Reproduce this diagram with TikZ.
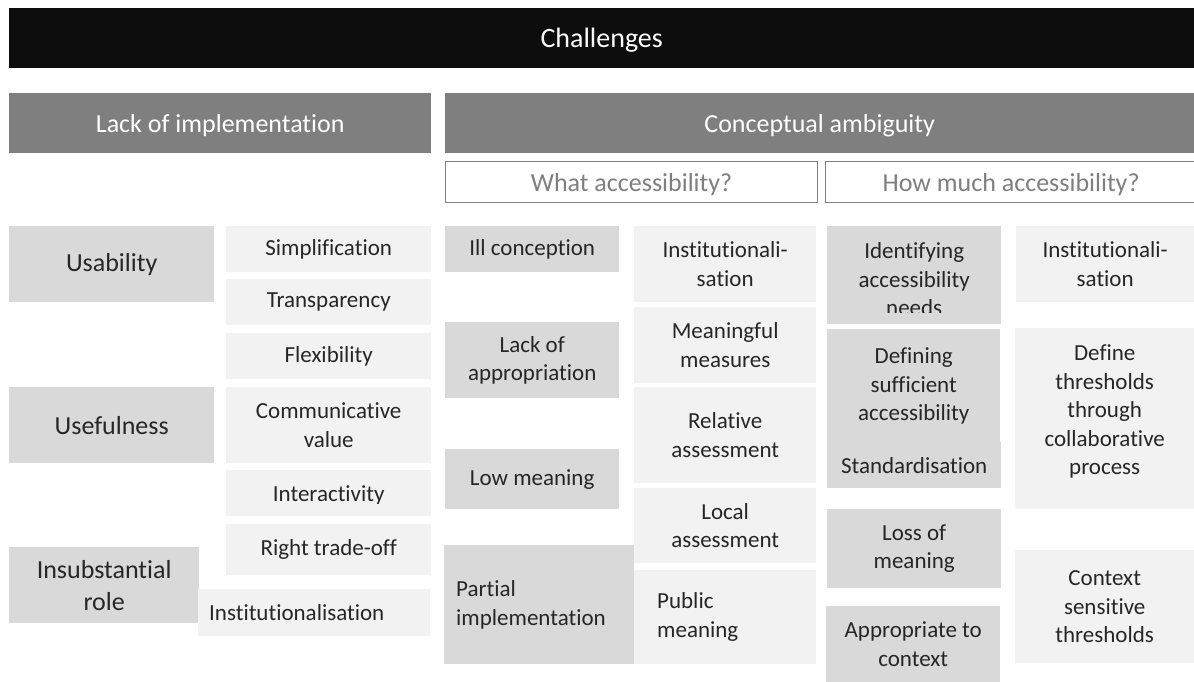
\documentclass[tikz,border=0pt]{standalone}
\usepackage{fontspec}
\setmainfont[RawFeature={-liga;-clig;-calt;-dlig;-ccmp}]{Carlito}
\usepackage{xcolor}
\usepackage{tikz}
\usetikzlibrary{positioning}
\definecolor{cblack}{HTML}{0D0D0D}
\definecolor{cheader}{HTML}{7F7F7F}
\definecolor{cdark}{HTML}{D9D9D9}
\definecolor{clight}{HTML}{F2F2F2}
\definecolor{cline}{HTML}{7F7F7F}
\definecolor{ctext}{HTML}{262626}

\begin{document}
\begin{tikzpicture}[x=1pt, y=-1pt,
  cell/.style={rectangle, anchor=north west, inner sep=0pt, align=center, text=ctext, font=\fontsize{23}{28.5}\selectfont},
  dark/.style={cell, fill=cdark},
  light/.style={cell, fill=clight},
  head/.style={cell, fill=cheader, text=white, text depth=0pt, font=\fontsize{26}{31}\selectfont},
  sub/.style={cell, fill=white, draw=cline, line width=1.2pt, text=cline, text depth=0pt, font=\fontsize{26}{31}\selectfont},
  big/.style={font=\fontsize{26}{32}\selectfont}]
  \useasboundingbox (0,0) rectangle (1194,682);
  \clip (0,0) rectangle (1194,682);
  % title and branches
  \node[head, fill=cblack, font=\fontsize{28}{34}\selectfont, minimum width=1185, minimum height=60] (chall) at (9,8) {Challenges};
  \node[head, minimum width=422, minimum height=60] (lack) at (9,93) {Lack of implementation};
  \node[head, minimum width=749, minimum height=60] (concept) at (445,93) {Conceptual ambiguity};
  \node[sub, minimum width=372, minimum height=41] (what) at (445,161) {What accessibility?};
  \node[sub, minimum width=371, minimum height=41] (howmuch) at (825,161) {How much accessibility?};

  % lack of implementation
  \node[dark, big, minimum width=205, minimum height=76] (usab) at (9,226) {Usability};
  \node[light, minimum width=205, minimum height=46] (simpl) at (226,226) {Simplification};
  \node[light, minimum width=205, minimum height=46] (transp) at (226,279) {Transparency};
  \node[light, minimum width=205, minimum height=46] (flex) at (226,333) {Flexibility};
  \node[dark, big, minimum width=205, minimum height=76] (usef) at (9,387) {Usefulness};
  \node[light, minimum width=205, minimum height=76] (commun) at (226,387) {Communicative\\value};
  \node[light, minimum width=205, minimum height=46] (interact) at (226,470) {};
  \begin{scope}
    \clip (226,470) rectangle (431,503);
    \node[cell, anchor=center, yshift=-2pt] (interact-t) at (interact.center) {Interactivity};
  \end{scope}
  \node[light, minimum width=205, minimum height=51] (tradeoff) at (226,524) {Right trade-off};
  \node[dark, minimum width=190, minimum height=76] (insub) at (9,547) {};
  \begin{scope}
    \clip (9,547) rectangle (199,610);
    \node[cell, big, anchor=center] (insub-t) at (insub.center) {Insubstantial\\role};
  \end{scope}
  \node[light, align=left, text width=210, inner xsep=11, minimum width=232, minimum height=47] (instl) at (198,589) {Institutionalisation};

  % what accessibility
  \node[dark, minimum width=174, minimum height=46] (illc) at (445,226) {Ill conception};
  \node[light, minimum width=182, minimum height=76] (instm) at (634,226) {Institutionali-\\sation};
  \node[light, minimum width=182, minimum height=76] (meanm) at (634,307) {Meaningful\\measures};
  \node[dark, minimum width=174, minimum height=76] (approp) at (445,322) {Lack of\\appropriation};
  \node[light, minimum width=182, minimum height=96] (relat) at (634,387) {Relative\\assessment};
  \node[dark, minimum width=174, minimum height=60] (lowm) at (445,449) {Low meaning};
  \node[light, minimum width=182, minimum height=75] (local) at (634,488) {Local\\assessment};
  \node[dark, align=left, text width=166, inner xsep=12, minimum width=190, minimum height=119] (partial) at (444,545) {Partial\\implementation};
  \node[light, align=left, text width=136, inner xsep=23, minimum width=182, minimum height=94] (public) at (634,570) {Public\\meaning};

  % how much accessibility
  \node[dark, minimum width=174, minimum height=98] (ident) at (827,226) {};
  \begin{scope}
    \clip (827,226) rectangle (1001,312);
    \node[cell, anchor=center, yshift=-4pt] (ident-t) at (ident.center) {Identifying\\accessibility\\needs};
  \end{scope}
  \node[light, minimum width=178, minimum height=76] (instr) at (1016,226) {Institutionali-\\sation};
  \node[dark, minimum width=173, minimum height=114] (defsuf) at (827,329) {Defining\\sufficient\\accessibility};
  \node[dark, minimum width=174, minimum height=46] (stand) at (827,442) {Standardisation};
  \node[light, minimum width=179, minimum height=181] (thresh) at (1015,328) {Define\\thresholds\\through\\collaborative\\process\rule[-18pt]{0pt}{18pt}};
  \node[dark, minimum width=174, minimum height=79] (lossm) at (827,509) {Loss of\\meaning};
  \node[dark, minimum width=174, minimum height=76] (approc) at (826,606) {Appropriate to\\context};
  \node[light, minimum width=179, minimum height=113] (ctxsens) at (1015,550) {Context\\sensitive\\thresholds};
\end{tikzpicture}
\end{document}
